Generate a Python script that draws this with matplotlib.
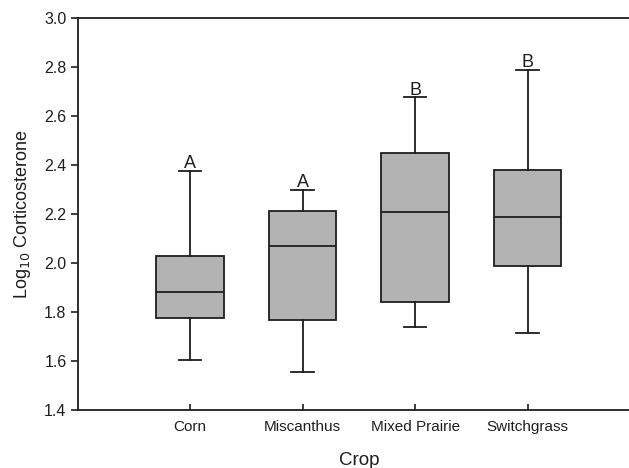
import matplotlib
matplotlib.use("Agg")
import matplotlib.pyplot as plt

plt.rcParams['font.family'] = ['Liberation Sans', 'DejaVu Sans']

crops = ["Corn", "Miscanthus", "Mixed Prairie", "Switchgrass"]
whisker_low = [1.605, 1.554, 1.737, 1.713]
q1 = [1.774, 1.767, 1.842, 1.987]
median = [1.880, 2.069, 2.210, 2.189]
q3 = [2.030, 2.212, 2.450, 2.381]
whisker_high = [2.376, 2.298, 2.676, 2.788]
letters = ["A", "A", "B", "B"]

stats = []
for i in range(len(crops)):
    stats.append({
        "label": crops[i],
        "whislo": whisker_low[i],
        "q1": q1[i],
        "med": median[i],
        "q3": q3[i],
        "whishi": whisker_high[i],
        "fliers": [],
    })

fig = plt.figure(figsize=(6.29, 4.68), dpi=100)
ax = fig.add_axes([0.1235, 0.1239, 0.894, 0.8376])

lc = "#1e1e1e"
lw = 1.3
pos = list(range(1, len(crops) + 1))
ax.bxp(stats, positions=pos, widths=0.6, patch_artist=True, showfliers=False,
       boxprops=dict(facecolor="#b3b3b3", edgecolor=lc, linewidth=lw),
       medianprops=dict(color=lc, linewidth=lw),
       whiskerprops=dict(color=lc, linewidth=lw),
       capprops=dict(color=lc, linewidth=lw),
       capwidths=0.2)

for p, hi, let in zip(pos, whisker_high, letters):
    ax.text(p, hi - 0.006, let, ha="center", va="bottom", fontsize=13, color="#1e1e1e")

ax.set_xlim(0, 5)
ax.set_ylim(1.4, 3.0)
ax.set_yticks([1.4, 1.6, 1.8, 2.0, 2.2, 2.4, 2.6, 2.8, 3.0])
ax.set_yticklabels(["%.1f" % v for v in ax.get_yticks()])
ax.set_xticks(pos)
ax.set_xticklabels(crops)

for s in ["left", "bottom", "top", "right"]:
    ax.spines[s].set_linewidth(1.3)
    ax.spines[s].set_color(lc)

ax.tick_params(axis="y", direction="out", length=5, width=1.2, pad=3, labelsize=11.5, colors=lc)
ax.tick_params(axis="x", direction="in", length=4, width=1.2, pad=7, labelsize=11, colors=lc)

ax.set_xlabel("Crop", fontsize=13.5, color=lc, labelpad=13)
ax.set_ylabel("Log$_{10}$ Corticosterone", fontsize=13, color=lc, labelpad=8)

fig.savefig("out.png", dpi=100)
